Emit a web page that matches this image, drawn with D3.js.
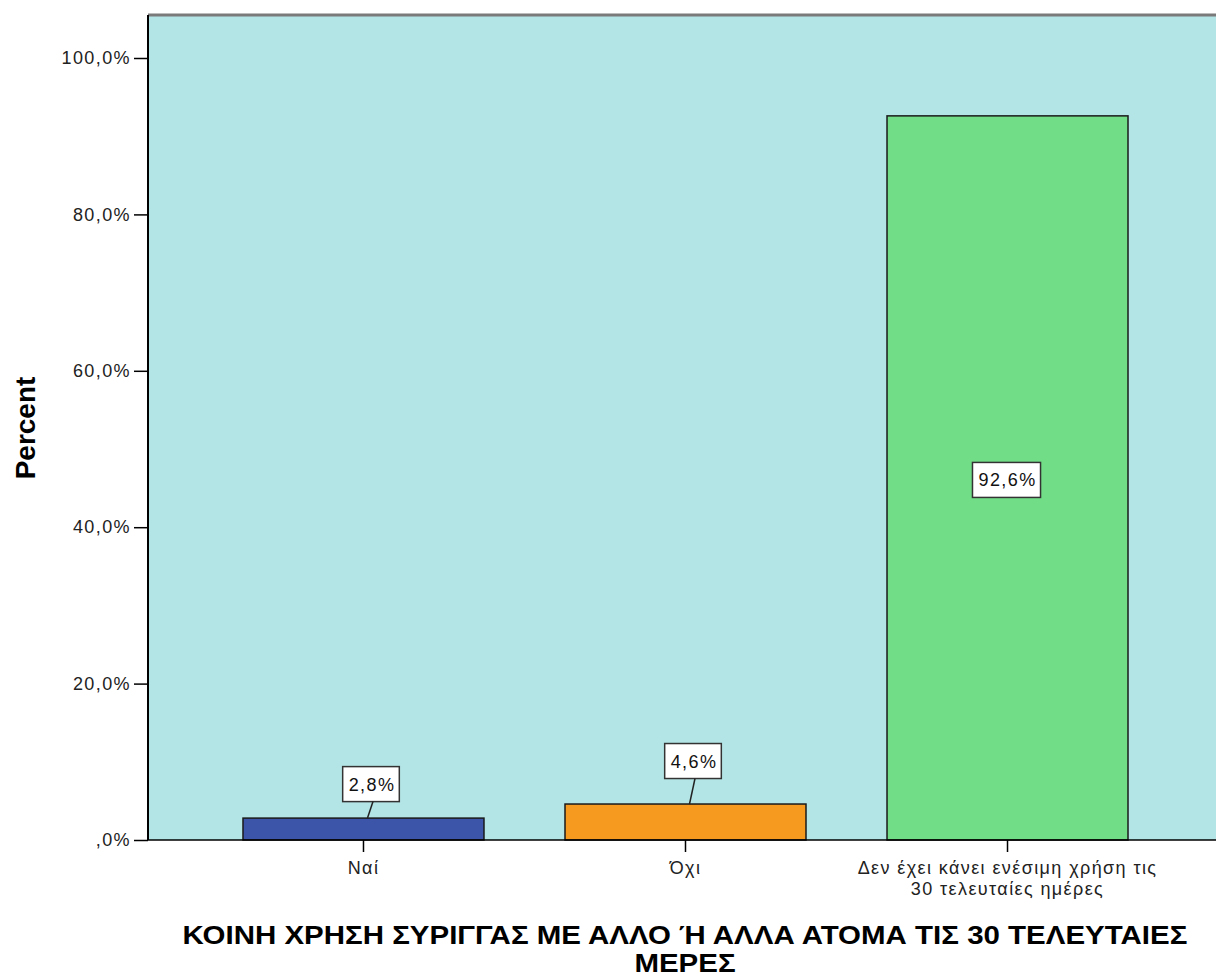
<!DOCTYPE html>
<html>
<head>
<meta charset="utf-8">
<script src="https://cdn.jsdelivr.net/npm/d3@7"></script>
<style>
  body { margin: 0; background: #fff; }
  svg { display: block; font-family: "Liberation Sans", Arial, sans-serif; }
</style>
</head>
<body>
<svg id="chart" width="1216" height="979"></svg>
<script>
// Categories and percentages
const categories = ["Ναί", "Όχι", "Δεν έχει κάνει ενέσιμη χρήση τις 30 τελευταίες ημέρες"];
const categoryLines = [["Ναί"], ["Όχι"], ["Δεν έχει κάνει ενέσιμη χρήση τις", "30 τελευταίες ημέρες"]];
const percents = [2.8, 4.6, 92.6];
const barColors = ["#3d55a8", "#f6991f", "#71dd87"];
const yTicks = [0, 20, 40, 60, 80, 100];
const yTitle = "Percent";
const xTitleLines = ["ΚΟΙΝΗ ΧΡΗΣΗ ΣΥΡΙΓΓΑΣ ΜΕ ΑΛΛΟ Ή ΑΛΛΑ ΑΤΟΜΑ ΤΙΣ 30 ΤΕΛΕΥΤΑΙΕΣ", "ΜΕΡΕΣ"];

const svg = d3.select("#chart");
const plot = { left: 148, top: 15, right: 1223, bottom: 840 };
const smallFont = { size: 18, spacing: 1.4 };

const pct = v => (v === 0 ? "" : d3.format(".1f")(v).replace(".", ",").replace(/^0/, "")) + (v === 0 ? ",0%" : "%");

const y = d3.scaleLinear().domain([0, 100]).range([plot.bottom, 58]);
const x = d3.scaleBand().domain(categories).range([plot.left, plot.right])
  .paddingInner(0.2516).paddingOuter(0.295);

// plot background
svg.append("rect")
  .attr("x", plot.left).attr("y", plot.top)
  .attr("width", plot.right - plot.left).attr("height", plot.bottom - plot.top)
  .attr("fill", "#b4e5e6");
svg.append("line")
  .attr("x1", plot.left).attr("x2", plot.right)
  .attr("y1", plot.top).attr("y2", plot.top)
  .attr("stroke", "#7a7a7a").attr("stroke-width", 3);

// bars
svg.selectAll("rect.bar").data(percents).join("rect")
  .attr("class", "bar")
  .attr("x", (d, i) => x(categories[i]))
  .attr("width", x.bandwidth())
  .attr("y", d => y(d))
  .attr("height", d => y(0) - y(d))
  .attr("fill", (d, i) => barColors[i])
  .attr("stroke", "#1a1a1a").attr("stroke-width", 1.5);

// y axis
const yAxis = svg.append("g")
  .attr("transform", `translate(${plot.left},0)`)
  .call(d3.axisLeft(y).tickValues(yTicks).tickSize(14).tickPadding(3).tickFormat(pct));
yAxis.select(".domain").attr("d", `M0,${plot.top}V${plot.bottom}`).attr("stroke", "#000").attr("stroke-width", 2);
yAxis.selectAll(".tick line").attr("stroke", "#000").attr("stroke-width", 1.5);
yAxis.selectAll("text").attr("font-size", smallFont.size).attr("letter-spacing", smallFont.spacing)
  .attr("fill", "#222").attr("font-family", "Liberation Sans, Arial, sans-serif");

// x axis
const xAxis = svg.append("g")
  .attr("transform", `translate(0,${plot.bottom})`)
  .call(d3.axisBottom(x).tickSize(12).tickFormat(""));
xAxis.select(".domain").attr("d", `M${plot.left},0H${plot.right}`).attr("stroke", "#000").attr("stroke-width", 1.5);
xAxis.selectAll(".tick line").attr("stroke", "#000").attr("stroke-width", 1.5);
xAxis.selectAll(".tick").each(function(d, i) {
  const t = d3.select(this).append("text")
    .attr("text-anchor", "middle").attr("font-size", smallFont.size)
    .attr("letter-spacing", smallFont.spacing).attr("fill", "#222");
  categoryLines[i].forEach((line, j) => {
    t.append("tspan").attr("x", 0).attr("y", 34 + j * 21).text(line);
  });
});

// value labels: callouts above short bars, centred inside tall ones
const calloutLift = [34, 43];
const labels = svg.append("g").attr("font-size", smallFont.size).attr("letter-spacing", smallFont.spacing);
percents.forEach((v, i) => {
  const cx = x(categories[i]) + x.bandwidth() / 2;
  const inside = v > 50;
  const ly = inside ? y(v / 2) + 2 : y(v) - calloutLift[i];
  const bx = inside ? cx : cx + 8.5;
  const g = labels.append("g").attr("transform", `translate(${bx},${ly})`);
  const txt = g.append("text").attr("text-anchor", "middle").attr("dy", "0.36em")
    .attr("fill", "#111").text(pct(v));
  const w = txt.node().getComputedTextLength() + 10;
  g.insert("rect", "text")
    .attr("x", -w / 2 - 1).attr("y", -17.5).attr("width", w).attr("height", 35)
    .attr("fill", "#fff").attr("stroke", "#333").attr("stroke-width", 1.5);
  if (!inside) {
    labels.append("line")
      .attr("x1", bx + 1).attr("y1", ly + 17.5)
      .attr("x2", cx + 4).attr("y2", y(v))
      .attr("stroke", "#222").attr("stroke-width", 1.5);
  }
});

// axis titles
svg.append("text")
  .attr("transform", `translate(35,428) rotate(-90)`)
  .attr("text-anchor", "middle").attr("font-size", 28).attr("font-weight", "bold")
  .attr("fill", "#000").text(yTitle);

// x title: two lines, stretched horizontally to the wide title block
const titleCenter = 685, titleWidth = 1005;
const xtg = svg.append("g");
const xt = xtg.append("text").attr("text-anchor", "middle")
  .attr("font-size", 25).attr("font-weight", "bold").attr("fill", "#000");
xTitleLines.forEach((line, j) => {
  xt.append("tspan").attr("x", 0).attr("y", 944 + j * 28).text(line);
});
const natural = xt.select("tspan").node().getComputedTextLength();
xtg.attr("transform", `translate(${titleCenter},0) scale(${titleWidth / natural},1)`);
</script>
</body>
</html>
